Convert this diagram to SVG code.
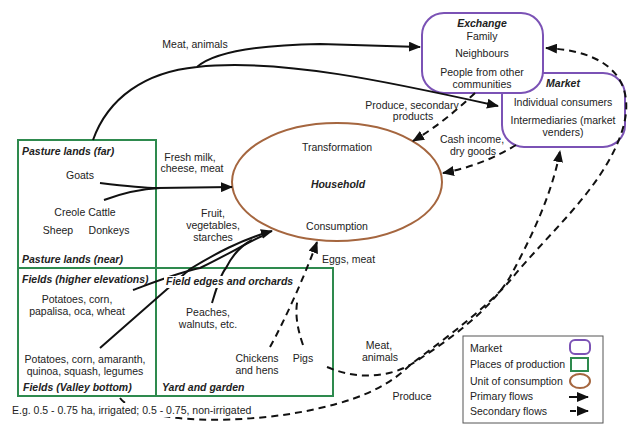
<svg xmlns="http://www.w3.org/2000/svg" width="640" height="437" viewBox="0 0 640 437">
<style>
text{font-family:"Liberation Sans",Arial,sans-serif;font-size:10.5px;fill:#222}
.c{text-anchor:middle}
.h{font-weight:bold;font-style:italic}
.mk{fill:#fff;stroke:#7b52b5;stroke-width:2}
.pl{fill:none;stroke:#2e8a4e;stroke-width:2}
.uc{fill:#fff;stroke:#a5663f;stroke-width:2}
.pf{fill:none;stroke:#111;stroke-width:2}
.sf{fill:none;stroke:#111;stroke-width:2;stroke-dasharray:7 5}
.bg{fill:#fff}
</style>
<defs>
<marker id="ah" markerWidth="12" markerHeight="10" refX="11" refY="5" orient="auto" markerUnits="userSpaceOnUse">
<path d="M0,0 L12,5 L0,10 Z" fill="#111"/>
</marker>
</defs>
<rect width="640" height="437" fill="#fff"/>

<g id="places">
<rect class="pl" x="18" y="140" width="138" height="256"/>
<line class="pl" x1="18" y1="268" x2="156" y2="268"/>
<rect class="pl" x="156" y="268" width="177" height="128"/>
</g>

<g id="household">
<ellipse class="uc" cx="337" cy="182" rx="105" ry="59"/>
<text class="c" x="337" y="151">Transformation</text>
<text class="c h" x="338" y="188">Household</text>
<text class="c" x="337" y="230">Consumption</text>
</g>

<g id="market">
<rect class="mk" x="502" y="73" width="123" height="74" rx="22"/>
<text class="c h" x="563" y="87">Market</text>
<text class="c" x="563" y="106">Individual consumers</text>
<text class="c" x="563" y="124">Intermediaries (market</text>
<text class="c" x="563" y="136">venders)</text>
</g>

<g id="exchange">
<rect class="mk" x="422" y="13" width="121" height="80" rx="22"/>
<text class="c h" x="482" y="27">Exchange</text>
<text class="c" x="482" y="40">Family</text>
<text class="c" x="482" y="57">Neighbours</text>
<text class="c" x="482" y="76">People from other</text>
<text class="c" x="482" y="88">communities</text>
</g>

<g id="connectors">
<path class="pf" d="M93,140 C108,98 145,72 197,67 C214,52 260,45 320,44 L420,47" marker-end="url(#ah)"/>
<path class="pf" d="M197,67 C280,58 390,82 498,106" marker-end="url(#ah)"/>
<path class="pf" d="M100,183 C125,186 145,188 157,188 L232,187" marker-end="url(#ah)"/>
<path class="pf" d="M104,200 C120,194 140,189 160,188"/>
<path class="pf" d="M100,348 L190,269 C215,254 240,240 272,231" marker-end="url(#ah)"/>
<path class="pf" d="M133,290 C160,280 180,272 200,268 C225,256 245,244 262,236"/>
<path class="pf" d="M212,303 C216,290 220,275 226,268 C232,256 240,246 252,240"/>
<path class="sf" d="M475,93 C455,112 435,128 413,141" marker-end="url(#ah)"/>
<path class="sf" d="M516,145 C495,158 470,168 443,173" marker-end="url(#ah)"/>
<path class="sf" d="M270,347 C285,320 305,275 317,242" marker-end="url(#ah)"/>
<path class="sf" d="M303,345 C296,325 295,310 298,298"/>
<path class="sf" d="M327,367 C360,381 390,376 410,365 C450,340 490,310 510,277 C530,240 552,195 560,151" marker-end="url(#ah)"/>
<path class="sf" d="M120,398 C140,425 250,425 320,408 C370,397 395,380 410,365 C450,335 490,305 513,277 C550,232 600,190 620,137 C636,95 625,52 546,48" marker-end="url(#ah)"/>
</g>

<g id="labels">
<rect class="bg" x="164" y="276" width="128" height="12"/>
<text class="h" x="166" y="285">Field edges and orchards</text>
<text class="c" x="208" y="316">Peaches,</text>
<text class="c" x="208" y="328">walnuts, etc.</text>
<text class="c" x="257" y="362">Chickens</text>
<text class="c" x="257" y="374">and hens</text>
<text class="c" x="303" y="362">Pigs</text>
<text class="h" x="162" y="391">Yard and garden</text>
<text class="h" x="22" y="155">Pasture lands (far)</text>
<text class="c" x="80" y="179">Goats</text>
<text class="c" x="85" y="216">Creole Cattle</text>
<text class="c" x="58" y="234">Sheep</text>
<text class="c" x="109" y="234">Donkeys</text>
<text class="h" x="22" y="263">Pasture lands (near)</text>
<text class="h" x="22" y="283">Fields (higher elevations)</text>
<text class="c" x="77" y="303">Potatoes, corn,</text>
<text class="c" x="77" y="315">papalisa, oca, wheat</text>
<text class="c" x="85" y="363">Potatoes, corn, amaranth,</text>
<text class="c" x="85" y="375">quinoa, squash, legumes</text>
<text class="h" x="23" y="391">Fields (Valley bottom)</text>
<rect class="bg" x="10" y="403" width="244" height="14"/>
<text x="12" y="414">E.g. 0.5 - 0.75 ha, irrigated; 0.5 - 0.75, non-irrigated</text>
<text class="c" x="195" y="48">Meat, animals</text>
<text class="c" x="190" y="161">Fresh milk,</text>
<text class="c" x="192" y="172">cheese, meat</text>
<text class="c" x="213" y="217">Fruit,</text>
<text class="c" x="213" y="229">vegetables,</text>
<text class="c" x="213" y="241">starches</text>
<text class="c" x="412" y="109">Produce, secondary</text>
<text class="c" x="413" y="120">products</text>
<text class="c" x="472" y="143">Cash income,</text>
<text class="c" x="473" y="155">dry goods</text>
<text x="322" y="263">Eggs, meat</text>
<text class="c" x="379" y="349">Meat,</text>
<text class="c" x="380" y="361">animals</text>
<text class="c" x="412" y="400">Produce</text>
</g>

<g id="legend">
<rect x="463" y="336" width="140" height="87" fill="#fff" stroke="#555" stroke-width="1"/>
<text x="470" y="352">Market</text>
<rect class="mk" x="570" y="340" width="20" height="14" rx="5"/>
<text x="470" y="368">Places of production</text>
<rect class="pl" x="571" y="358" width="17" height="13"/>
<text x="470" y="385">Unit of consumption</text>
<ellipse class="uc" cx="580" cy="381" rx="10" ry="7"/>
<text x="470" y="400">Primary flows</text>
<path class="pf" d="M569,397 L588,397" marker-end="url(#ah)"/>
<text x="470" y="415">Secondary flows</text>
<path class="pf" d="M570,411 L576,411"/>
<path class="pf" d="M580,411 L588,411" marker-end="url(#ah)"/>
</g>
</svg>
